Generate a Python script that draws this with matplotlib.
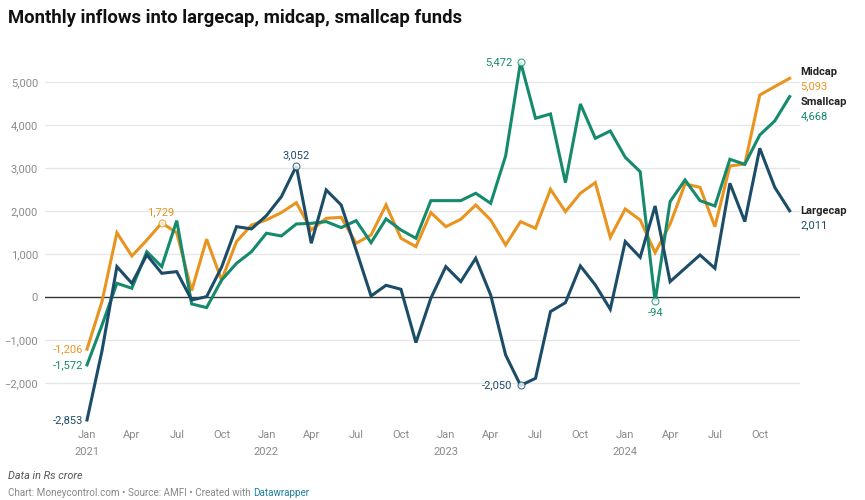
import matplotlib
matplotlib.use("Agg")
import matplotlib.pyplot as plt
import numpy as np

plt.rcParams['font.family'] = ['Roboto', 'DejaVu Sans']

months = [f"{m} {y}" for y in (2021, 2022, 2023, 2024)
          for m in ("Jan", "Feb", "Mar", "Apr", "May", "Jun",
                    "Jul", "Aug", "Sep", "Oct", "Nov", "Dec")]

midcap = [-1206, -100, 1500, 960, 1330, 1729, 1500, 155, 1350, 400, 1295, 1680,
          1800, 1970, 2200, 1566, 1837, 1860, 1256, 1450, 2147, 1372, 1178, 1970,
          1643, 1814, 2147, 1798, 1217, 1760, 1605, 2512, 1992, 2419, 2667, 1395,
          2054, 1798, 1039, 1700, 2636, 2558, 1643, 3054, 3100, 4705, 4900, 5093]

smallcap = [-1572, -650, 325, 210, 1060, 713, 1783, -155, -240, 400, 790, 1060,
            1490, 1426, 1705, 1720, 1760, 1620, 1783, 1271, 1822, 1566, 1372, 2248,
            2248, 2248, 2419, 2186, 3287, 5472, 4163, 4264, 2667, 4496, 3698, 3868,
            3256, 2922, -94, 2225, 2729, 2248, 2124, 3209, 3093, 3775, 4101, 4668]

largecap = [-2853, -1250, 713, 325, 985, 558, 597, -62, 15, 700, 1643, 1590,
            1900, 2340, 3052, 1256, 2496, 2147, 1100, 31, 279, 186, -1054, -20,
            713, 364, 907, 54, -1341, -2050, -1884, -333, -124, 729, 287, -279,
            1295, 930, 2124, 364, 674, 984, 674, 2651, 1760, 3465, 2558, 2011]

y_ticks = [-2000, -1000, 0, 1000, 2000, 3000, 4000, 5000]
x_tick_idx = list(range(0, 48, 3))
x_tick_labels = []
for i in x_tick_idx:
    m, y = months[i].split()
    x_tick_labels.append(f"{m}\n{y}" if m == "Jan" else m)

C_MID = "#e8941f"
C_SMALL = "#168a6c"
C_LARGE = "#1c4d68"

W, H = 865, 500
fig = plt.figure(figsize=(W / 100, H / 100), dpi=100)
ax = fig.add_axes([45 / W, 1 - 425 / H, (800 - 45) / W, (425 - 58) / H])

x = np.arange(len(months))
ax.set_xlim(-2.81, 47.69)
ax.set_ylim(-2970, 5565)

for yt in y_ticks:
    if yt != 0:
        ax.axhline(yt, color="#e6e6e6", lw=0.9, zorder=0)
ax.axhline(0, color="#333333", lw=1.0, zorder=1)

lw = 2.2
ax.plot(x, midcap, color=C_MID, lw=lw, zorder=3, solid_joinstyle='miter')
ax.plot(x, smallcap, color=C_SMALL, lw=lw, zorder=3, solid_joinstyle='miter')
ax.plot(x, largecap, color=C_LARGE, lw=lw, zorder=4, solid_joinstyle='miter')

for s in ax.spines.values():
    s.set_visible(False)
ax.set_yticks(y_ticks)
ax.set_yticklabels([f"{v:,}".replace("-", "\u2212") for v in y_ticks])
ax.tick_params(axis='y', length=0, pad=5, labelsize=8, labelcolor="#8a8a8a")
ax.set_xticks(x_tick_idx)
ax.set_xticklabels(x_tick_labels)
ax.tick_params(axis='x', length=0, pad=3.5, labelsize=8, labelcolor="#8a8a8a")
for lab_ in ax.get_xticklabels():
    lab_.set_linespacing(1.85)
    lab_.set_verticalalignment('top')

def mark(i, series, color):
    ax.plot(i, series[i], 'o', ms=5, mfc='white', mec=color, mew=0.8,
            alpha=0.8, zorder=5)

imx_mid = midcap.index(1729)
imx_large = largecap.index(3052)
imx_small = smallcap.index(5472)
imn_large = largecap.index(-2050)
imn_small = smallcap.index(-94)
for i, s, c in [(imx_mid, midcap, C_MID), (imx_large, largecap, C_LARGE),
                (imx_small, smallcap, C_SMALL), (imn_large, largecap, C_LARGE),
                (imn_small, smallcap, C_SMALL)]:
    mark(i, s, c)

def lab(i, series, color, dx, dy, ha, va):
    v = series[i]
    ax.annotate(f"{v:,}", (i, v), xytext=(dx, dy), textcoords='offset points',
                ha=ha, va=va, fontsize=8, color=color, zorder=6)

lab(0, midcap, C_MID, -3, 0, 'right', 'center')
lab(0, smallcap, C_SMALL, -3, 0, 'right', 'center')
lab(0, largecap, C_LARGE, -3, 0, 'right', 'center')
lab(imx_mid, midcap, C_MID, -1, 4, 'center', 'bottom')
lab(imx_large, largecap, C_LARGE, 0, 4, 'center', 'bottom')
lab(imx_small, smallcap, C_SMALL, -6, 0, 'right', 'center')
lab(imn_large, largecap, C_LARGE, -6, 0, 'right', 'center')
lab(imn_small, smallcap, C_SMALL, 0, -5, 'center', 'top')

xe = 47.72
for name, series, color, ty in [("Midcap", midcap, C_MID, 5240),
                                 ("Smallcap", smallcap, C_SMALL, 4542),
                                 ("Largecap", largecap, C_LARGE, 2007)]:
    ax.text(xe, ty, name, fontsize=8, fontweight='bold', color="#222222",
            ha='left', va='center', clip_on=False)
    ax.text(xe, ty - 335, f"{series[-1]:,}", fontsize=8, color=color,
            ha='left', va='center', clip_on=False)

fig.text(8 / W, 1 - 18 / H, "Monthly inflows into largecap, midcap, smallcap funds",
         fontsize=13.3, fontweight='bold', color="#111111", ha='left', va='center')
fig.text(8 / W, 1 - 476 / H, "Data in Rs crore", fontsize=7.8, style='italic',
         color="#555555", ha='left', va='center')
t1 = fig.text(8 / W, 1 - 493 / H,
              "Chart: Moneycontrol.com \u2022 Source: AMFI \u2022 Created with ",
              fontsize=7.1, color="#888888", ha='left', va='center')
fig.canvas.draw()
bb = t1.get_window_extent(renderer=fig.canvas.get_renderer())
fig.text(bb.x1 / W, 1 - 493 / H, "Datawrapper", fontsize=7.1, color="#1d81a2",
         ha='left', va='center')

fig.savefig("out.png", dpi=100)
